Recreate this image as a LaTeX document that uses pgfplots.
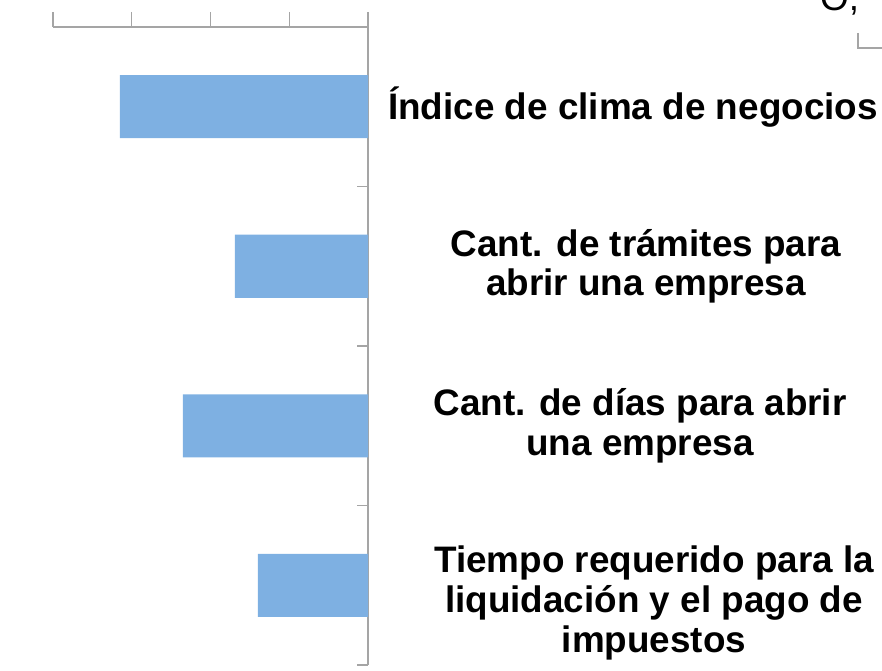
\documentclass[border=0pt]{standalone}
\usepackage{pgfplots}
\pgfplotsset{compat=1.18}
\usepackage{fontspec}
\setmainfont{Liberation Sans}
\definecolor{barblue}{RGB}{126,176,226}
\definecolor{axgray}{RGB}{165,165,165}
\begin{document}
\begin{tikzpicture}[x=1bp,y=1bp]
\useasboundingbox (0,0) rectangle (882,671);
\begin{axis}[
  at={(53bp,6bp)}, anchor=south west,
  scale only axis, width=315bp, height=638bp,
  xmin=-4, xmax=0, ymin=0.5, ymax=4.5, y dir=reverse,
  axis x line*=top, axis y line*=right,
  axis line style={axgray, line width=1.3bp, -},
  xtick={-4,-3,-2,-1,0}, xticklabel=\empty,
  ytick={1.5,2.5,3.5,4.5}, yticklabel=\empty,
  major tick length=11bp,
  x tick style={/pgfplots/major tick length=15bp},
  xtick align=outside, ytick align=inside,
  tick style={axgray, line width=1.3bp},
  clip=false,
]
\addplot[xbar, fill=barblue, draw=none, bar width=63bp]
  coordinates {(-3.15,1) (-1.69,2) (-2.35,3) (-1.40,4)};
\begin{scope}[every node/.style={font=\bfseries\fontsize{37}{40}\selectfont, align=center, inner sep=0pt, anchor=center}]
\node[xshift=265bp] at (axis cs:0,1) {Índice de clima de negocios};
\node[xshift=278bp] at (axis cs:0,2) {Cant. de trámites para\\abrir una empresa};
\node[xshift=272bp] at (axis cs:0,3) {Cant. de días para abrir\\una empresa};
\node[xshift=286bp, yshift=-18bp] at (axis cs:0,4) {Tiempo requerido para la\\liquidación y el pago de\\impuestos};
\end{scope}
\end{axis}
\node[anchor=base west, inner sep=0pt, font=\fontsize{37}{40}\selectfont] at (820,660) {O,};
\draw[axgray, line width=1.3bp] (858,638) -- (858,623) -- (882,623);
\end{tikzpicture}
\end{document}
